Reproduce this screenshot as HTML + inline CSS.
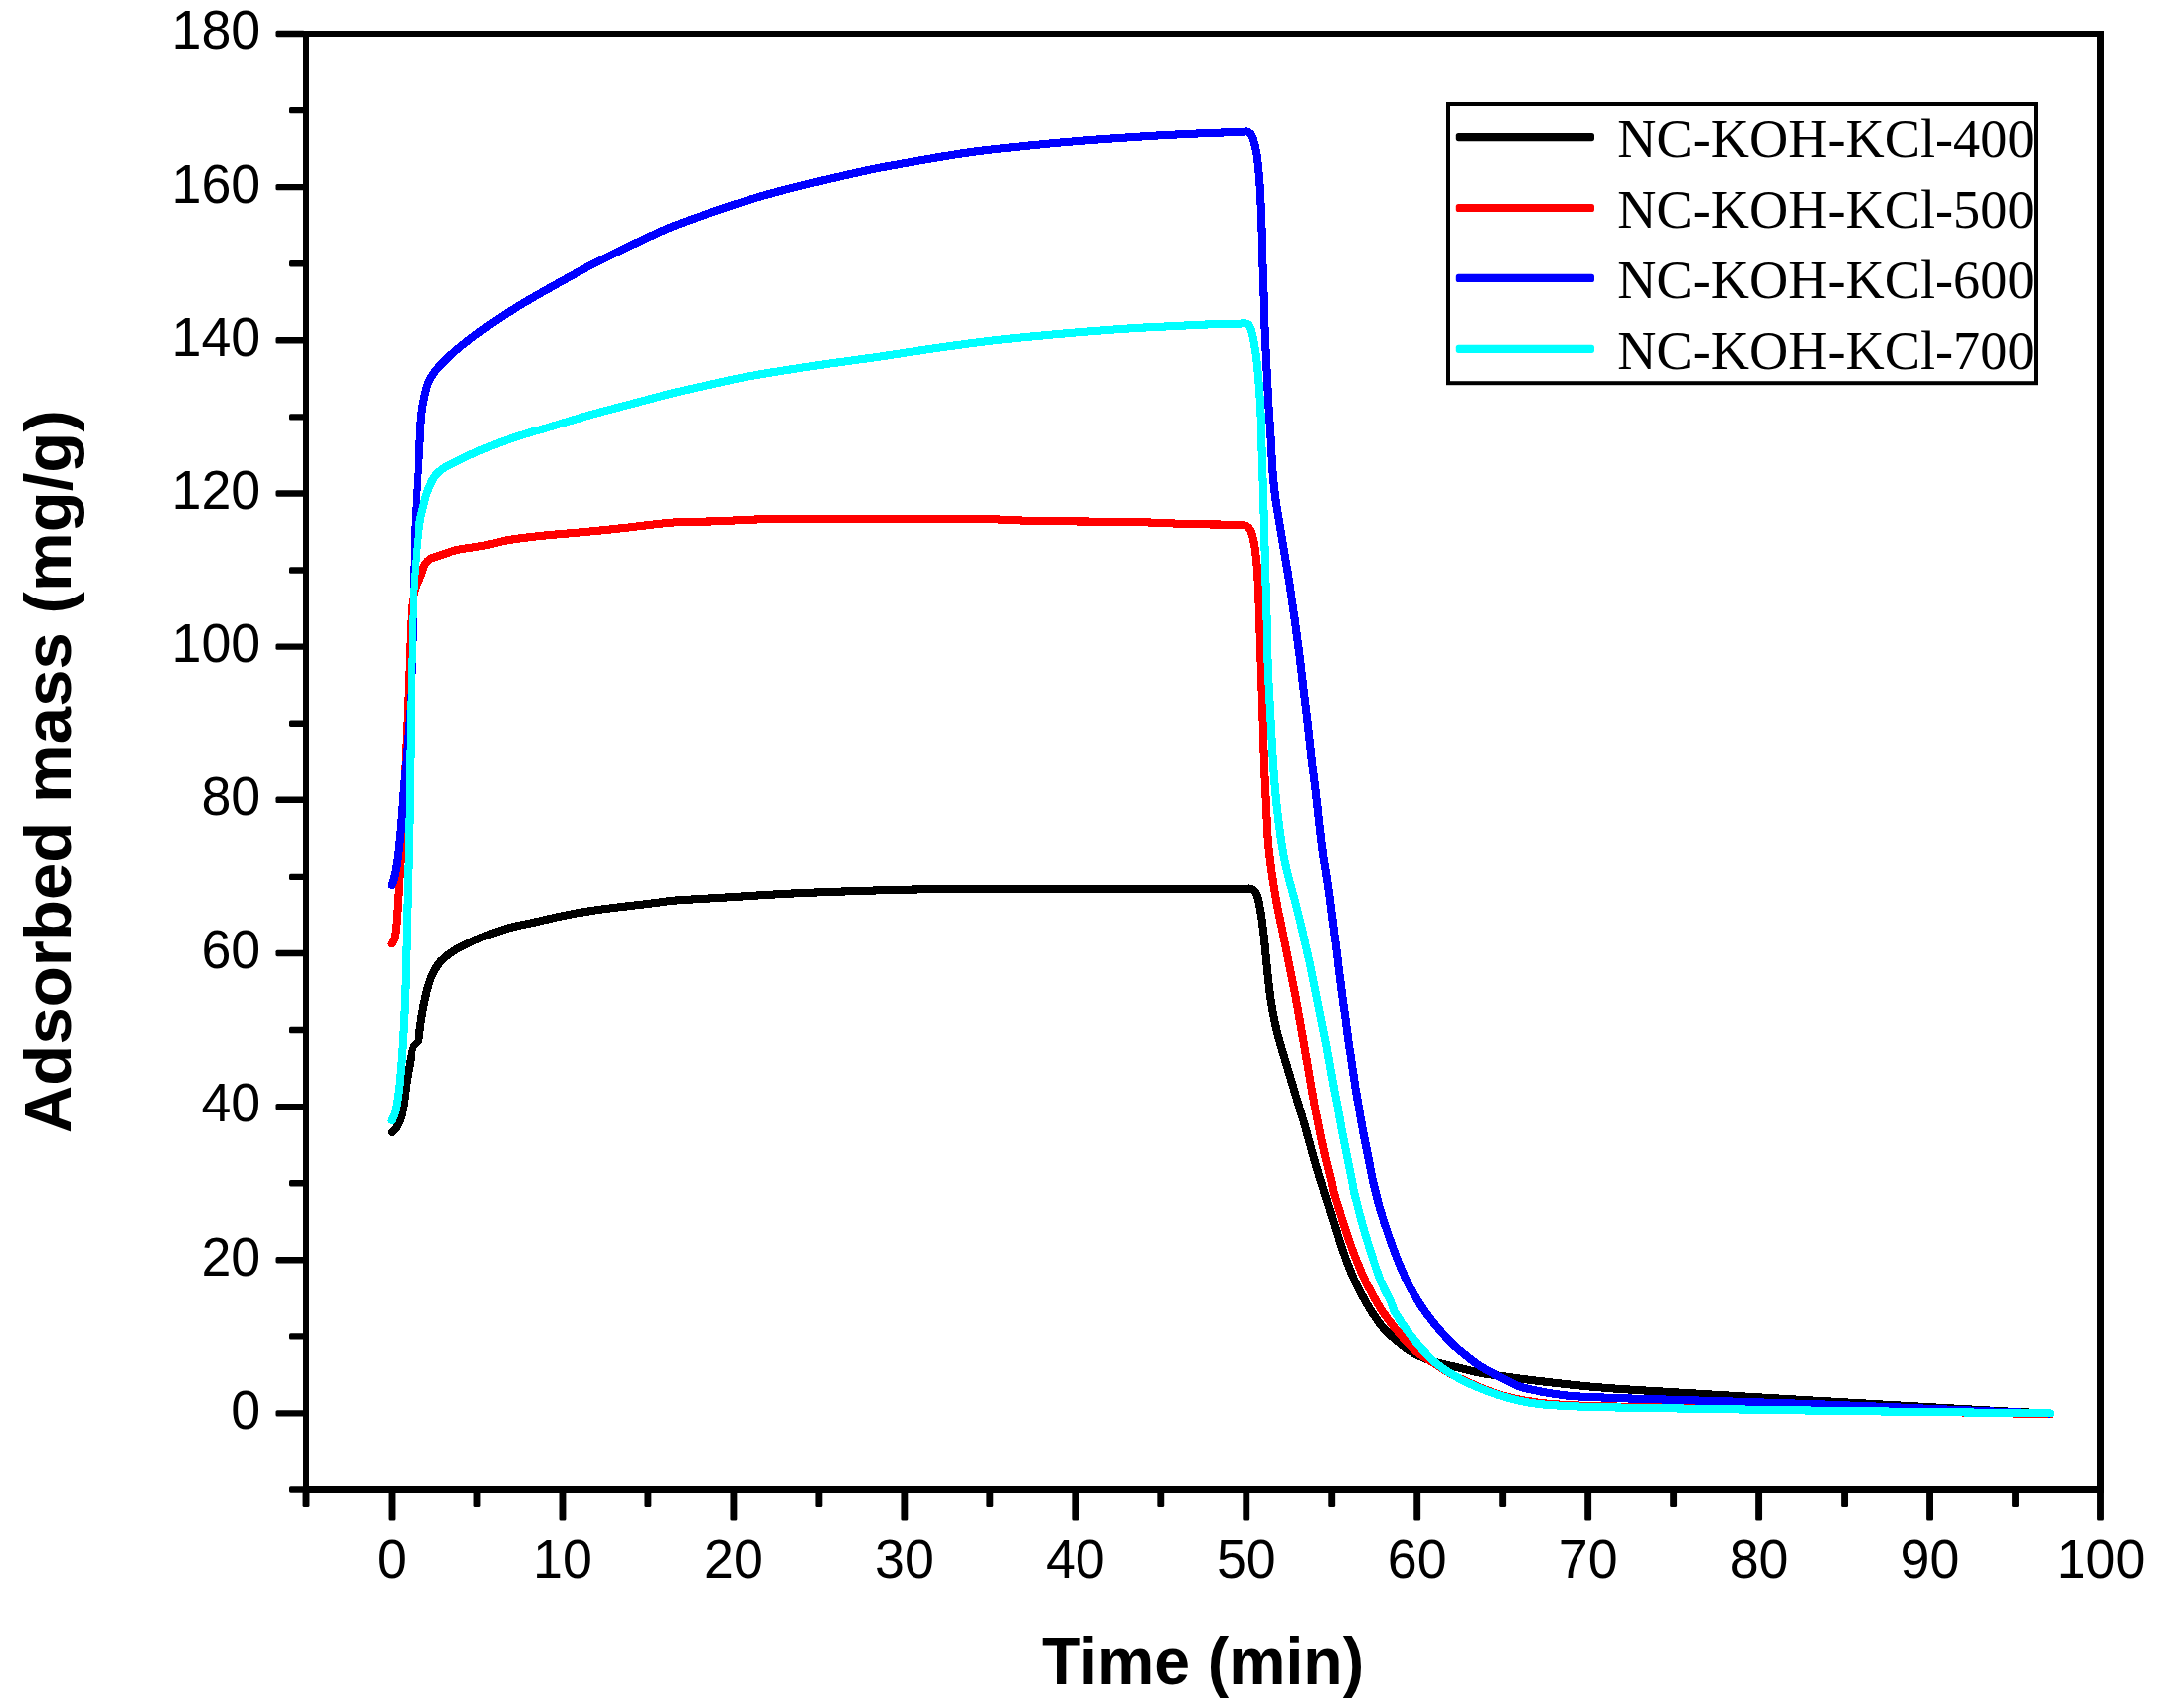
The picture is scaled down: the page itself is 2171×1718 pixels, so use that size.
<!DOCTYPE html>
<html lang="en"><head><meta charset="utf-8"><title>Adsorbed mass vs. time</title>
<style>
html,body{margin:0;padding:0;background:#fff;}
body{width:2171px;height:1718px;overflow:hidden;}
svg{display:block;}
.tk{font-family:"Liberation Sans",Arial,sans-serif;font-size:55.1px;fill:#000;}
.ax{font-family:"Liberation Sans",Arial,sans-serif;font-weight:bold;fill:#000;}
.lg{font-family:"Liberation Serif","Times New Roman",serif;font-size:56px;fill:#000;}
</style></head><body>
<svg width="2171" height="1718" viewBox="0 0 2171 1718">
<rect width="2171" height="1718" fill="#fff"/>
<g fill="none" stroke-linecap="round" stroke-linejoin="round" shape-rendering="crispEdges" stroke-width="8.1">
<path stroke="#000" d="M393.7 1139.0C394.5 1138.2 397.2 1136.2 398.4 1134.3C399.9 1131.8 401.9 1127.6 403.0 1124.0C404.3 1119.7 405.3 1113.8 406.1 1108.6C407.1 1102.6 407.9 1093.6 408.7 1087.9C409.4 1083.4 410.3 1079.0 411.1 1074.6C412.0 1069.8 413.1 1063.0 413.9 1059.3C414.4 1057.0 414.8 1054.5 416.0 1052.4C417.2 1050.3 420.1 1049.1 420.9 1046.8C422.0 1043.5 422.2 1037.5 422.9 1032.9C423.6 1028.3 424.2 1023.6 425.0 1019.0C425.8 1014.4 426.8 1009.7 427.8 1005.1C428.9 1000.5 429.9 995.6 431.3 991.2C432.6 986.9 434.1 982.6 436.1 978.7C438.1 974.8 440.3 970.9 443.1 967.6C445.9 964.4 449.3 961.7 452.8 959.2C456.3 956.7 460.1 954.3 464.0 952.3C469.1 949.6 476.8 945.9 483.4 943.3C491.3 940.2 501.9 936.2 511.2 933.5C520.3 930.9 529.7 929.4 539.0 927.3C548.3 925.2 557.5 922.9 566.8 921.0C576.0 919.1 585.3 917.5 594.6 916.1C603.8 914.7 613.1 913.5 622.4 912.4C631.7 911.3 640.9 910.3 650.2 909.2C659.5 908.1 669.7 906.5 678.0 905.7C685.3 905.0 692.7 904.8 700.0 904.3C708.1 903.8 717.9 903.2 726.8 902.7C742.4 901.8 771.4 899.8 793.6 898.7C815.8 897.6 838.1 896.8 860.3 896.1C882.5 895.4 904.8 894.7 927.0 894.4C949.2 894.0 971.5 894.1 993.8 894.0C1022.6 893.9 1065.6 894.0 1100.0 894.0C1133.3 894.0 1175.0 894.0 1200.0 894.0C1216.7 894.0 1240.4 894.1 1250.0 894.0C1252.5 894.0 1255.5 893.3 1257.5 893.6C1259.2 893.9 1260.8 894.8 1262.0 896.0C1263.3 897.3 1264.5 899.5 1265.1 901.5C1266.2 905.2 1267.7 912.8 1268.6 918.5C1269.7 925.2 1270.8 934.2 1271.7 942.0C1272.6 949.8 1273.2 957.6 1274.0 965.4C1274.8 973.2 1275.5 981.0 1276.4 988.8C1277.3 996.6 1278.3 1004.4 1279.6 1012.2C1280.9 1020.0 1282.4 1027.9 1284.3 1035.6C1286.2 1043.4 1288.6 1051.3 1290.9 1059.1C1293.2 1066.9 1295.6 1074.7 1297.9 1082.5C1300.2 1090.3 1302.6 1098.1 1304.9 1105.9C1307.2 1113.7 1309.7 1121.5 1312.0 1129.3C1314.3 1137.1 1316.3 1144.9 1318.5 1152.7C1320.7 1160.5 1322.9 1168.4 1325.2 1176.2C1327.5 1184.1 1330.1 1192.1 1332.6 1200.0C1335.4 1208.9 1338.8 1219.8 1341.9 1229.7C1345.0 1239.5 1347.8 1249.5 1351.3 1259.3C1354.8 1269.2 1359.3 1280.7 1363.0 1289.0C1366.1 1295.9 1370.7 1303.8 1373.5 1309.0C1375.5 1312.7 1377.7 1316.4 1380.0 1320.0C1382.8 1324.2 1386.9 1330.2 1390.0 1334.1C1392.6 1337.3 1395.5 1340.3 1398.6 1343.1C1402.8 1346.8 1409.5 1352.7 1414.9 1356.4C1420.0 1359.9 1425.5 1362.8 1431.2 1365.3C1436.9 1367.8 1443.0 1369.5 1449.0 1371.2C1455.2 1372.9 1461.9 1374.2 1468.3 1375.7C1475.2 1377.3 1483.1 1379.5 1490.5 1380.9C1497.9 1382.3 1505.4 1383.2 1512.8 1384.3C1521.5 1385.5 1532.5 1387.1 1542.4 1388.3C1552.3 1389.5 1562.2 1390.6 1572.1 1391.7C1582.0 1392.8 1591.8 1393.8 1601.7 1394.7C1613.0 1395.7 1627.2 1396.8 1640.0 1397.6C1678.3 1400.0 1768.9 1405.4 1831.7 1409.0C1893.5 1412.6 1978.6 1417.3 2017.0 1419.4C2032.0 1420.2 2054.5 1421.2 2062.0 1421.5"/>
<path stroke="#f00" d="M393.7 949.3C394.2 948.3 396.0 945.7 396.5 943.6C397.3 940.5 398.0 935.0 398.4 930.7C399.0 925.1 399.5 917.0 399.9 910.1C400.4 902.4 400.9 892.9 401.4 884.3C401.9 875.7 402.6 867.2 403.0 858.6C403.4 848.7 403.4 836.2 404.0 825.0C404.6 813.8 405.7 802.3 406.4 791.5C407.0 781.0 407.5 769.5 408.0 760.0C408.4 751.6 408.8 743.1 409.2 734.7C409.7 722.7 410.5 703.5 411.1 687.9C411.7 672.3 412.2 654.7 412.8 641.0C413.3 629.3 413.8 614.4 414.8 605.9C415.5 600.5 417.5 594.7 419.0 590.0C420.4 585.8 422.6 581.4 424.0 577.8C425.2 574.7 425.9 570.9 427.4 568.3C428.8 565.8 430.7 563.4 433.2 562.0C436.1 560.3 441.0 559.3 444.9 558.0C449.3 556.5 454.8 554.1 459.9 553.0C466.9 551.4 478.5 550.3 487.1 548.6C495.4 547.0 503.4 544.4 511.7 543.0C521.4 541.4 533.9 540.0 545.0 538.8C556.3 537.6 570.2 536.6 579.4 535.8C586.3 535.2 593.1 534.6 600.0 533.9C608.4 533.1 621.8 531.7 629.7 530.8C635.5 530.2 641.4 529.3 647.2 528.7C655.4 527.8 668.4 526.0 679.1 525.4C691.2 524.7 706.4 524.8 720.0 524.3C734.6 523.8 751.2 522.7 766.8 522.3C783.2 521.9 801.3 522.0 818.6 521.9C840.8 521.8 872.9 521.9 900.0 521.9C928.6 521.9 966.7 521.6 990.0 522.0C1006.7 522.3 1023.3 523.6 1040.0 524.0C1058.3 524.4 1081.8 524.4 1100.0 524.6C1116.5 524.8 1132.9 524.9 1149.4 525.3C1166.1 525.7 1183.4 526.8 1200.0 527.2C1216.3 527.6 1239.9 527.5 1249.0 527.9C1250.9 528.0 1252.9 528.3 1254.5 529.3C1256.1 530.3 1257.7 532.0 1258.5 533.9C1259.8 537.0 1261.2 543.2 1262.1 547.9C1263.1 553.4 1263.8 560.4 1264.4 566.7C1265.1 574.1 1265.6 583.8 1266.0 592.4C1266.5 603.3 1267.0 619.7 1267.4 632.2C1267.8 643.9 1268.2 655.7 1268.6 667.4C1269.0 679.1 1269.4 690.8 1269.8 702.5C1270.2 714.2 1270.6 725.9 1271.0 737.6C1271.4 749.3 1271.6 761.0 1272.1 772.7C1272.6 784.4 1273.2 796.2 1273.8 807.9C1274.4 819.6 1275.0 834.0 1275.6 843.0C1276.0 849.4 1276.7 855.7 1277.5 862.0C1278.3 868.7 1279.3 876.3 1280.4 883.4C1281.5 890.9 1282.9 899.0 1284.3 906.8C1285.7 914.6 1287.4 922.5 1289.0 930.3C1290.6 938.1 1292.1 945.9 1293.7 953.7C1295.3 961.5 1296.8 969.3 1298.4 977.1C1300.0 984.9 1301.6 992.7 1303.1 1000.5C1304.6 1008.3 1305.9 1016.1 1307.3 1023.9C1308.7 1031.7 1310.1 1039.6 1311.5 1047.4C1312.9 1055.2 1314.2 1063.0 1315.5 1070.8C1316.8 1078.6 1318.1 1086.4 1319.5 1094.2C1320.9 1102.0 1322.2 1109.8 1323.7 1117.6C1325.2 1125.4 1326.8 1133.2 1328.4 1141.0C1330.0 1148.8 1331.7 1156.6 1333.5 1164.4C1335.3 1172.2 1338.0 1182.0 1339.4 1187.9C1340.3 1191.9 1340.9 1196.1 1341.9 1200.0C1342.9 1203.8 1344.2 1207.5 1345.4 1211.3C1346.9 1216.2 1349.1 1223.6 1351.1 1229.7C1353.8 1237.7 1357.6 1249.5 1361.3 1259.3C1365.1 1269.2 1369.8 1280.5 1373.7 1289.0C1377.1 1296.2 1382.1 1304.8 1385.0 1310.0C1386.9 1313.4 1388.9 1316.8 1391.2 1320.0C1394.4 1324.5 1399.6 1331.6 1404.2 1337.1C1409.4 1343.3 1416.1 1351.8 1422.4 1357.4C1428.3 1362.6 1436.4 1366.9 1442.0 1370.6C1446.7 1373.7 1451.3 1377.0 1456.2 1379.8C1461.1 1382.6 1466.3 1385.1 1471.5 1387.5C1477.8 1390.4 1486.4 1394.4 1493.8 1397.3C1501.1 1400.1 1508.4 1402.9 1516.0 1404.8C1524.7 1407.0 1536.4 1409.1 1545.7 1410.4C1554.4 1411.6 1563.2 1412.2 1572.0 1412.8C1581.3 1413.4 1591.8 1413.7 1601.7 1414.0C1613.0 1414.3 1627.2 1414.6 1640.0 1414.8C1664.7 1415.2 1718.0 1415.8 1750.0 1416.3C1777.3 1416.7 1804.7 1417.3 1832.0 1417.8C1865.3 1418.4 1911.7 1419.3 1950.0 1420.0C1987.3 1420.7 2043.3 1421.8 2062.0 1422.2"/>
<path stroke="#00f" d="M393.7 890.0C394.1 889.0 395.3 886.3 395.8 884.3C396.7 880.8 398.1 874.1 398.9 868.9C399.8 862.9 400.7 855.1 401.4 848.2C402.2 840.9 402.9 832.8 403.5 825.1C404.3 815.6 405.2 801.4 406.0 791.5C406.7 782.9 407.8 774.4 408.5 765.8C409.2 757.2 409.8 748.6 410.5 740.0C411.3 729.0 412.8 713.4 413.5 700.0C414.4 683.3 415.2 657.7 415.6 640.0C416.0 624.7 416.0 607.5 416.2 594.0C416.4 582.4 416.5 570.0 416.7 559.1C416.9 548.9 417.2 538.8 417.6 528.6C418.1 517.3 418.9 503.6 419.6 491.1C420.3 478.6 421.4 464.2 422.0 453.7C422.5 445.1 422.9 434.6 423.3 428.0C423.6 423.3 424.1 418.3 424.6 414.0C425.1 410.0 425.7 406.0 426.6 402.0C427.8 397.0 429.0 389.3 431.5 383.8C434.0 378.4 437.7 373.5 441.6 369.0C445.9 364.0 451.7 358.7 457.1 353.9C462.8 348.9 469.4 343.8 475.6 339.1C481.6 334.5 487.9 330.1 494.1 325.8C500.2 321.6 506.5 317.4 512.7 313.5C518.8 309.6 525.0 305.8 531.2 302.2C537.3 298.6 544.9 294.3 549.7 291.6C553.1 289.7 556.5 287.7 560.0 285.8C567.9 281.4 584.8 271.9 597.1 265.5C609.3 259.1 621.8 253.0 634.1 247.1C646.4 241.2 658.8 235.2 671.2 230.0C683.4 224.9 699.0 219.5 708.3 216.1C714.5 213.8 720.8 211.5 727.1 209.4C736.4 206.4 751.8 201.4 764.1 197.8C776.4 194.2 788.8 191.0 801.2 187.8C813.5 184.7 825.9 181.8 838.3 178.9C850.9 176.0 864.5 172.8 877.1 170.2C889.4 167.7 901.8 165.6 914.1 163.4C926.5 161.2 938.8 159.0 951.2 157.0C963.5 155.0 975.9 153.1 988.3 151.6C1002.6 149.8 1022.8 147.8 1037.1 146.3C1049.4 145.1 1061.8 143.9 1074.1 142.9C1086.4 141.8 1098.8 140.9 1111.2 140.0C1123.6 139.1 1137.4 138.2 1148.3 137.5C1157.7 136.9 1167.2 136.3 1176.6 135.8C1187.5 135.2 1201.4 134.6 1213.6 134.1C1225.7 133.6 1243.0 133.0 1250.0 132.8C1251.8 132.7 1253.9 132.0 1255.5 132.8C1257.2 133.6 1259.2 135.7 1260.0 137.8C1261.5 141.7 1263.6 150.0 1264.6 156.3C1265.8 164.0 1266.7 174.8 1267.4 184.1C1268.2 194.9 1268.7 208.8 1269.2 221.2C1269.7 233.6 1269.8 245.9 1270.2 258.3C1270.6 270.7 1271.1 283.0 1271.5 295.4C1271.9 307.7 1272.1 320.1 1272.6 332.4C1273.1 344.8 1273.8 357.1 1274.4 369.5C1275.0 381.9 1275.6 394.9 1276.3 406.6C1276.9 417.6 1277.8 428.6 1278.5 439.6C1279.2 451.0 1279.7 464.6 1280.5 474.7C1281.1 483.2 1282.3 493.3 1283.1 500.0C1283.7 505.1 1284.7 510.1 1285.5 515.1C1286.9 523.5 1289.3 538.6 1291.3 550.3C1293.2 562.0 1295.4 573.7 1297.2 585.4C1299.0 597.1 1300.7 608.8 1302.3 620.5C1303.9 632.2 1305.5 643.9 1307.0 655.6C1308.5 667.3 1309.8 679.1 1311.2 690.8C1312.6 702.5 1314.1 714.2 1315.5 725.9C1316.9 737.6 1318.0 749.3 1319.4 761.0C1320.8 772.7 1322.3 784.5 1323.7 796.2C1325.1 807.9 1326.4 820.8 1327.6 831.3C1328.7 840.7 1329.9 850.7 1331.1 859.4C1332.2 867.4 1333.7 875.5 1334.9 883.4C1336.1 891.2 1337.2 899.0 1338.2 906.8C1339.2 914.6 1340.2 922.5 1341.2 930.3C1342.2 938.1 1343.3 945.9 1344.3 953.7C1345.3 961.5 1346.1 969.3 1347.1 977.1C1348.1 984.9 1349.1 992.7 1350.1 1000.5C1351.1 1008.3 1352.3 1016.1 1353.4 1023.9C1354.5 1031.7 1355.4 1039.6 1356.5 1047.4C1357.6 1055.2 1358.8 1063.0 1360.0 1070.8C1361.2 1078.6 1362.3 1086.4 1363.5 1094.2C1364.8 1102.0 1366.1 1109.8 1367.5 1117.6C1368.9 1125.4 1370.2 1133.2 1371.7 1141.0C1373.2 1148.8 1374.9 1156.6 1376.4 1164.4C1378.0 1172.2 1379.7 1182.0 1381.0 1187.9C1381.9 1192.0 1383.0 1196.1 1384.0 1200.0C1385.0 1203.8 1385.8 1207.6 1386.9 1211.3C1388.3 1216.2 1390.5 1223.6 1392.5 1229.7C1395.2 1237.7 1399.1 1249.5 1402.9 1259.3C1406.7 1269.2 1411.4 1280.5 1415.5 1289.0C1419.0 1296.2 1424.0 1304.4 1427.4 1310.0C1430.1 1314.4 1433.1 1318.5 1436.1 1322.6C1439.3 1326.9 1443.2 1331.7 1446.7 1335.9C1450.1 1340.0 1454.3 1344.7 1457.2 1347.8C1459.4 1350.1 1461.6 1352.4 1464.1 1354.5C1469.0 1358.5 1479.0 1367.1 1486.4 1372.1C1493.4 1376.9 1503.0 1381.7 1508.6 1384.7C1512.2 1386.7 1516.0 1388.7 1519.7 1390.4C1523.3 1392.1 1526.9 1394.0 1530.8 1395.2C1535.8 1396.7 1545.1 1398.5 1550.0 1399.5C1553.4 1400.2 1556.8 1400.8 1560.2 1401.3C1565.1 1402.0 1573.0 1403.3 1579.5 1403.9C1586.4 1404.5 1594.3 1404.8 1601.7 1405.1C1611.8 1405.5 1627.2 1406.1 1640.0 1406.5C1678.3 1407.7 1768.9 1410.2 1831.7 1412.4C1893.5 1414.6 1978.6 1418.5 2017.0 1420.0C2032.0 1420.6 2054.5 1421.2 2062.0 1421.5"/>
<path stroke="#0ff" d="M393.7 1127.1C394.3 1125.7 396.4 1121.8 397.1 1118.9C398.2 1114.5 399.6 1106.9 400.4 1100.8C401.4 1093.5 402.3 1083.7 403.0 1075.1C403.9 1064.4 404.9 1049.3 405.6 1036.4C406.3 1023.5 407.0 1010.6 407.4 997.7C407.9 982.7 408.3 963.4 408.7 946.2C409.1 929.0 409.5 911.8 409.9 894.6C410.3 877.4 410.9 860.3 411.2 843.1C411.6 825.9 411.8 805.4 412.0 791.5C412.2 781.0 412.4 769.5 412.5 760.0C412.6 751.6 412.7 743.1 412.9 734.7C413.1 722.7 413.6 703.5 414.0 687.9C414.4 671.1 414.8 649.6 415.2 634.0C415.5 620.7 415.9 604.7 416.4 594.2C416.7 586.4 417.4 578.6 418.0 570.8C418.6 563.0 419.1 555.2 419.9 547.4C420.7 539.6 421.4 531.3 422.7 523.9C423.9 516.8 426.6 507.5 427.7 502.9C428.2 500.7 428.7 498.5 429.5 496.4C430.6 493.5 432.8 488.1 434.1 485.3C435.1 483.2 436.1 481.1 437.5 479.3C438.8 477.5 440.5 475.9 442.2 474.5C444.1 472.9 446.6 471.0 449.0 469.6C451.5 468.1 454.4 466.9 457.1 465.6C461.5 463.4 469.4 459.3 475.6 456.5C481.7 453.7 487.9 451.2 494.1 448.7C500.3 446.2 506.5 443.9 512.7 441.7C518.8 439.6 525.0 437.6 531.2 435.7C537.3 433.8 543.5 432.2 549.7 430.4C555.9 428.6 562.1 426.6 568.3 424.8C576.7 422.3 589.4 418.5 600.0 415.6C611.5 412.4 624.8 409.1 637.1 405.8C649.4 402.5 661.8 399.1 674.1 396.0C686.4 392.9 698.8 390.2 711.2 387.4C723.5 384.6 735.9 381.7 748.3 379.3C761.5 376.8 776.5 374.4 790.7 372.2C805.5 369.8 821.6 367.4 837.0 365.2C852.5 363.0 870.0 360.7 883.4 358.8C894.6 357.2 905.9 355.4 917.1 353.7C928.9 351.9 941.8 350.0 954.1 348.3C966.5 346.6 978.8 344.9 991.2 343.4C1003.6 341.9 1015.9 340.6 1028.3 339.3C1040.7 338.1 1053.1 337.0 1065.4 335.9C1077.7 334.8 1090.1 333.8 1102.4 332.9C1114.8 331.9 1127.1 331.0 1139.5 330.2C1151.9 329.4 1164.2 328.9 1176.6 328.3C1188.9 327.7 1202.8 326.9 1213.6 326.5C1222.9 326.2 1235.3 326.4 1241.4 326.2C1244.3 326.1 1247.7 325.4 1250.0 325.4C1251.8 325.4 1254.0 324.9 1255.5 326.0C1257.0 327.2 1258.3 330.1 1259.0 332.4C1260.2 336.6 1261.8 344.8 1262.8 351.0C1263.9 357.8 1264.8 365.8 1265.5 373.2C1266.3 380.9 1266.9 391.2 1267.4 397.3C1267.7 401.5 1268.1 405.8 1268.3 410.0C1268.6 417.1 1268.8 429.7 1269.1 439.6C1269.4 450.4 1270.0 464.6 1270.3 474.7C1270.6 483.1 1270.7 491.6 1271.0 500.0C1271.3 508.7 1271.6 517.9 1271.9 526.8C1272.2 539.1 1272.7 558.1 1273.1 573.7C1273.5 589.3 1274.1 604.9 1274.5 620.5C1274.9 636.1 1275.1 653.7 1275.6 667.4C1276.0 679.1 1276.7 690.8 1277.3 702.5C1277.9 714.2 1278.5 725.9 1279.2 737.6C1279.9 749.3 1280.5 761.0 1281.3 772.7C1282.1 784.4 1283.1 796.7 1284.3 807.9C1285.4 818.6 1287.0 831.0 1288.2 840.0C1289.2 847.4 1290.4 854.8 1291.8 862.0C1293.2 869.2 1294.9 876.3 1296.7 883.4C1298.6 890.9 1301.1 899.0 1303.1 906.8C1305.1 914.6 1307.0 922.5 1308.9 930.3C1310.8 938.1 1312.5 945.9 1314.3 953.7C1316.1 961.5 1317.9 969.3 1319.5 977.1C1321.1 984.9 1322.6 992.7 1324.1 1000.5C1325.6 1008.3 1327.2 1016.1 1328.8 1023.9C1330.4 1031.7 1332.0 1039.6 1333.5 1047.4C1335.0 1055.2 1336.3 1063.0 1337.7 1070.8C1339.1 1078.6 1340.5 1086.4 1341.9 1094.2C1343.4 1102.0 1345.0 1109.8 1346.4 1117.6C1347.8 1125.4 1349.1 1133.2 1350.6 1141.0C1352.1 1148.8 1353.7 1156.6 1355.3 1164.4C1356.9 1172.2 1358.8 1182.0 1360.0 1187.9C1360.8 1191.9 1361.4 1196.1 1362.3 1200.0C1363.1 1203.8 1364.2 1207.5 1365.2 1211.3C1366.5 1216.2 1368.3 1223.6 1370.0 1229.7C1372.3 1237.7 1375.7 1249.5 1378.9 1259.3C1382.1 1269.2 1385.7 1280.5 1389.1 1289.0C1392.0 1296.2 1396.9 1304.8 1399.3 1310.0C1400.8 1313.3 1401.4 1316.9 1403.2 1320.0C1406.6 1325.7 1413.7 1336.4 1419.7 1344.0C1426.2 1352.1 1434.5 1361.9 1441.9 1368.6C1448.6 1374.6 1456.7 1379.7 1464.1 1384.1C1471.2 1388.3 1479.0 1391.9 1486.4 1395.1C1493.6 1398.2 1501.2 1400.9 1508.6 1403.3C1515.9 1405.6 1523.9 1407.7 1530.8 1409.2C1537.1 1410.6 1543.6 1411.5 1550.0 1412.2C1556.9 1413.0 1564.7 1413.4 1572.1 1413.8C1580.7 1414.3 1591.8 1414.7 1601.7 1415.0C1613.0 1415.3 1627.2 1415.5 1640.0 1415.7C1678.3 1416.3 1767.8 1417.8 1831.7 1418.7C1902.0 1419.7 2023.6 1421.0 2062.0 1421.4"/>
</g>
<g fill="#000">
<rect x="305" y="31" width="1812" height="6"/>
<rect x="305" y="1495" width="1812" height="7"/>
<rect x="305" y="31" width="6" height="1471"/>
<rect x="2110" y="31" width="7" height="1471"/>
<rect x="291.0" y="1495.30" width="16.0" height="6.40" rx="1.6"/>
<rect x="277.5" y="1418.22" width="29.5" height="6.40" rx="1.6"/>
<rect x="291.0" y="1341.14" width="16.0" height="6.40" rx="1.6"/>
<rect x="277.5" y="1264.06" width="29.5" height="6.40" rx="1.6"/>
<rect x="291.0" y="1186.98" width="16.0" height="6.40" rx="1.6"/>
<rect x="277.5" y="1109.90" width="29.5" height="6.40" rx="1.6"/>
<rect x="291.0" y="1032.83" width="16.0" height="6.40" rx="1.6"/>
<rect x="277.5" y="955.75" width="29.5" height="6.40" rx="1.6"/>
<rect x="291.0" y="878.67" width="16.0" height="6.40" rx="1.6"/>
<rect x="277.5" y="801.59" width="29.5" height="6.40" rx="1.6"/>
<rect x="291.0" y="724.51" width="16.0" height="6.40" rx="1.6"/>
<rect x="277.5" y="647.43" width="29.5" height="6.40" rx="1.6"/>
<rect x="291.0" y="570.35" width="16.0" height="6.40" rx="1.6"/>
<rect x="277.5" y="493.27" width="29.5" height="6.40" rx="1.6"/>
<rect x="291.0" y="416.19" width="16.0" height="6.40" rx="1.6"/>
<rect x="277.5" y="339.11" width="29.5" height="6.40" rx="1.6"/>
<rect x="291.0" y="262.03" width="16.0" height="6.40" rx="1.6"/>
<rect x="277.5" y="184.96" width="29.5" height="6.40" rx="1.6"/>
<rect x="291.0" y="107.88" width="16.0" height="6.40" rx="1.6"/>
<rect x="277.5" y="30.80" width="29.5" height="6.40" rx="1.6"/>
<rect x="304.57" y="1500.0" width="6.90" height="16.0" rx="1.6"/>
<rect x="390.55" y="1500.0" width="6.90" height="29.5" rx="1.6"/>
<rect x="476.53" y="1500.0" width="6.90" height="16.0" rx="1.6"/>
<rect x="562.50" y="1500.0" width="6.90" height="29.5" rx="1.6"/>
<rect x="648.47" y="1500.0" width="6.90" height="16.0" rx="1.6"/>
<rect x="734.45" y="1500.0" width="6.90" height="29.5" rx="1.6"/>
<rect x="820.42" y="1500.0" width="6.90" height="16.0" rx="1.6"/>
<rect x="906.40" y="1500.0" width="6.90" height="29.5" rx="1.6"/>
<rect x="992.38" y="1500.0" width="6.90" height="16.0" rx="1.6"/>
<rect x="1078.35" y="1500.0" width="6.90" height="29.5" rx="1.6"/>
<rect x="1164.33" y="1500.0" width="6.90" height="16.0" rx="1.6"/>
<rect x="1250.30" y="1500.0" width="6.90" height="29.5" rx="1.6"/>
<rect x="1336.27" y="1500.0" width="6.90" height="16.0" rx="1.6"/>
<rect x="1422.25" y="1500.0" width="6.90" height="29.5" rx="1.6"/>
<rect x="1508.22" y="1500.0" width="6.90" height="16.0" rx="1.6"/>
<rect x="1594.20" y="1500.0" width="6.90" height="29.5" rx="1.6"/>
<rect x="1680.17" y="1500.0" width="6.90" height="16.0" rx="1.6"/>
<rect x="1766.15" y="1500.0" width="6.90" height="29.5" rx="1.6"/>
<rect x="1852.12" y="1500.0" width="6.90" height="16.0" rx="1.6"/>
<rect x="1938.10" y="1500.0" width="6.90" height="29.5" rx="1.6"/>
<rect x="2024.08" y="1500.0" width="6.90" height="16.0" rx="1.6"/>
<rect x="2110.05" y="1500.0" width="6.90" height="29.5" rx="1.6"/>
</g>
<g class="tk" text-anchor="end">
<text transform="translate(262.2 1436.7) scale(0.976 1)">0</text>
<text transform="translate(262.2 1282.6) scale(0.976 1)">20</text>
<text transform="translate(262.2 1128.4) scale(0.976 1)">40</text>
<text transform="translate(262.2 974.2) scale(0.976 1)">60</text>
<text transform="translate(262.2 820.1) scale(0.976 1)">80</text>
<text transform="translate(262.2 665.9) scale(0.976 1)">100</text>
<text transform="translate(262.2 511.8) scale(0.976 1)">120</text>
<text transform="translate(262.2 357.6) scale(0.976 1)">140</text>
<text transform="translate(262.2 203.5) scale(0.976 1)">160</text>
<text transform="translate(262.2 49.3) scale(0.976 1)">180</text>
</g>
<g class="tk" text-anchor="middle">
<text transform="translate(394.0 1586.8) scale(0.976 1)">0</text>
<text transform="translate(566.0 1586.8) scale(0.976 1)">10</text>
<text transform="translate(737.9 1586.8) scale(0.976 1)">20</text>
<text transform="translate(909.9 1586.8) scale(0.976 1)">30</text>
<text transform="translate(1081.8 1586.8) scale(0.976 1)">40</text>
<text transform="translate(1253.8 1586.8) scale(0.976 1)">50</text>
<text transform="translate(1425.7 1586.8) scale(0.976 1)">60</text>
<text transform="translate(1597.7 1586.8) scale(0.976 1)">70</text>
<text transform="translate(1769.6 1586.8) scale(0.976 1)">80</text>
<text transform="translate(1941.5 1586.8) scale(0.976 1)">90</text>
<text transform="translate(2113.5 1586.8) scale(0.976 1)">100</text>
</g>
<text class="ax" font-size="65.8" transform="translate(1210 1693.9) scale(0.978 1)" text-anchor="middle">Time (min)</text>
<text class="ax" font-size="67.2" transform="translate(70.9 776.2) rotate(-90)" text-anchor="middle">Adsorbed mass (mg/g)</text>
<rect x="1457" y="105" width="591" height="280.2" fill="#fff" stroke="#000" stroke-width="4"/>
<rect x="1464.8" y="133.95" width="139.2" height="8.2" rx="2.6" fill="#000"/>
<rect x="1464.8" y="204.90" width="139.2" height="8.2" rx="2.6" fill="#f00"/>
<rect x="1464.8" y="275.80" width="139.2" height="8.2" rx="2.6" fill="#00f"/>
<rect x="1464.8" y="346.70" width="139.2" height="8.2" rx="2.6" fill="#0ff"/>
<g class="lg">
<text transform="translate(1627.2 158.0) scale(0.970 1)">NC-KOH-KCl-400</text>
<text transform="translate(1627.2 229.0) scale(0.970 1)">NC-KOH-KCl-500</text>
<text transform="translate(1627.2 300.0) scale(0.970 1)">NC-KOH-KCl-600</text>
<text transform="translate(1627.2 370.9) scale(0.970 1)">NC-KOH-KCl-700</text>
</g>
</svg></body></html>
